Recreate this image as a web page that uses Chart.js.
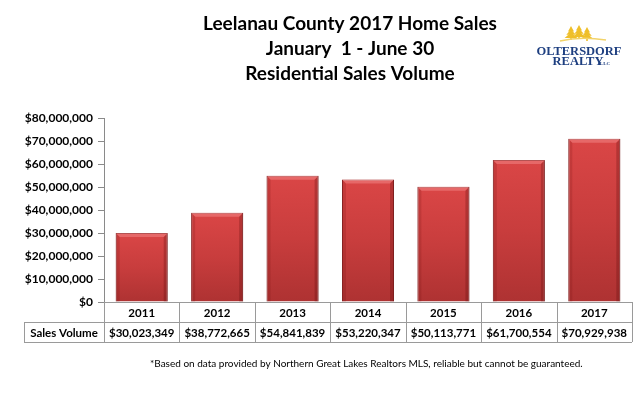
<!DOCTYPE html>
<html>
<head>
<meta charset="utf-8">
<script src="https://cdn.jsdelivr.net/npm/chart.js@4"></script>
<style>
  html, body { margin: 0; padding: 0; background: #fff; }
  canvas { display: block; }
</style>
</head>
<body>
<canvas id="chart" width="638" height="398"></canvas>
<script>
// ----------------------------
// DATA
// ----------------------------
const years = ["2011", "2012", "2013", "2014", "2015", "2016", "2017"];
const salesVolume = [30023349, 38772665, 54841839, 53220347, 50113771, 61700554, 70929938];
const titleLines = ["Leelanau County 2017 Home Sales", "January  1 - June 30", "Residential Sales Volume"];
const rowLabel = "Sales Volume";
const footnote = "*Based on data provided by Northern Great Lakes Realtors MLS, reliable but cannot be guaranteed.";

const money = v => "$" + Math.round(v).toLocaleString("en-US");
const FONT = "Lato, 'DejaVu Sans', sans-serif";

// ----------------------------
// BAR GRADIENT (per bar)
// ----------------------------
function barFill(ctx) {
    const chart = ctx.chart;
    const y = chart.scales.y;
    if (!y || ctx.dataIndex === undefined) return "#c83c3c";
    const top = y.getPixelForValue(salesVolume[ctx.dataIndex]);
    const bottom = y.getPixelForValue(0);
    if (!isFinite(top) || !isFinite(bottom) || top === bottom) return "#c83c3c";
    const g = chart.ctx.createLinearGradient(0, top, 0, bottom);
    g.addColorStop(0, "#da4646");
    g.addColorStop(0.5, "#c83d3d");
    g.addColorStop(1, "#ae3232");
    return g;
}

// ----------------------------
// BEVEL ON BARS
// ----------------------------
const bevelPlugin = {
    id: "bevel",
    afterDatasetsDraw(chart) {
        const c = chart.ctx;
        chart.getDatasetMeta(0).data.forEach(bar => {
            const l = bar.x - bar.width / 2, r = bar.x + bar.width / 2;
            const t = bar.y, b = bar.base, d = 4;
            c.save();
            // top highlight
            c.fillStyle = "rgba(255,170,170,0.35)";
            c.beginPath();
            c.moveTo(l, t); c.lineTo(r, t); c.lineTo(r - d, t + d); c.lineTo(l + d, t + d);
            c.closePath(); c.fill();
            // left edge
            c.fillStyle = "rgba(110,15,15,0.18)";
            c.beginPath();
            c.moveTo(l, t); c.lineTo(l + d, t + d); c.lineTo(l + d, b); c.lineTo(l, b);
            c.closePath(); c.fill();
            // right edge
            c.fillStyle = "rgba(90,10,10,0.28)";
            c.beginPath();
            c.moveTo(r, t); c.lineTo(r - d, t + d); c.lineTo(r - d, b); c.lineTo(r, b);
            c.closePath(); c.fill();
            c.restore();
        });
    }
};

// ----------------------------
// TITLE, TABLE, FOOTNOTE, LOGO
// ----------------------------
const extrasPlugin = {
    id: "extras",
    afterDraw(chart) {
        const c = chart.ctx;
        const x = chart.scales.x;
        const area = chart.chartArea;
        c.save();

        // title
        c.fillStyle = "#000";
        c.textAlign = "center";
        c.textBaseline = "middle";
        c.font = "bold 19px " + FONT;
        titleLines.forEach((t, i) => c.fillText(t, 350, 24 + i * 25));

        // data table
        const y0 = area.bottom, y1 = y0 + 20, y2 = y1 + 20;
        const left = 24, axisX = area.left, right = area.right;
        const half = (x.getPixelForValue(1) - x.getPixelForValue(0)) / 2;
        c.strokeStyle = "#9a9a9a";
        c.lineWidth = 1;
        c.beginPath();
        c.moveTo(axisX, y0 + 0.5); c.lineTo(right, y0 + 0.5);
        c.moveTo(left, y1 + 0.5); c.lineTo(right, y1 + 0.5);
        c.moveTo(left, y2 + 0.5); c.lineTo(right, y2 + 0.5);
        c.moveTo(left + 0.5, y1); c.lineTo(left + 0.5, y2);
        c.moveTo(axisX + 0.5, y0); c.lineTo(axisX + 0.5, y2);
        years.forEach((yr, i) => {
            const bx = Math.round(x.getPixelForValue(i) + half) + 0.5;
            c.moveTo(bx, y0); c.lineTo(bx, y2);
        });
        c.stroke();

        c.fillStyle = "#000";
        c.font = "bold 11.5px " + FONT;
        years.forEach((yr, i) => {
            const cx = x.getPixelForValue(i);
            c.fillText(yr, cx, y0 + 11);
            c.fillText(money(salesVolume[i]), cx, y1 + 11);
        });
        c.fillText(rowLabel, (left + axisX) / 2, y1 + 11);

        // footnote
        c.textAlign = "left";
        c.font = "10px " + FONT;
        c.fillText(footnote, 150, 364);

        // logo: trees
        c.fillStyle = "#efbf2a";
        [[571, 26], [579, 25], [587, 27]].forEach(([tx, ty]) => {
            for (let k = 0; k < 3; k++) {
                const w = 3 + k * 1.7, yy = ty + k * 3.3;
                c.beginPath();
                c.moveTo(tx, yy); c.lineTo(tx + w, yy + 5.5); c.lineTo(tx - w, yy + 5.5);
                c.closePath(); c.fill();
            }
            c.fillRect(tx - 0.8, ty + 12, 1.6, 2);
        });
        c.strokeStyle = "#f2d36a";
        c.lineWidth = 1.5;
        c.beginPath();
        c.moveTo(560, 41); c.quadraticCurveTo(580, 36, 606, 40);
        c.stroke();

        // logo: text
        c.fillStyle = "#1e3f80";
        c.textAlign = "center";
        c.font = "bold 12.5px 'Liberation Serif', 'DejaVu Serif', serif";
        c.fillText("OLTERSDORF", 579, 52);
        c.fillText("REALTY", 578, 62);
        c.font = "bold 5px 'Liberation Serif', serif";
        c.fillText("LLC", 605, 64);

        c.restore();
    }
};

// ----------------------------
// CHART
// ----------------------------
new Chart(document.getElementById("chart").getContext("2d"), {
    type: "bar",
    data: {
        labels: years,
        datasets: [{
            label: rowLabel,
            data: salesVolume,
            backgroundColor: barFill,
            borderColor: "#8c2626",
            borderWidth: 1,
            barPercentage: 0.69,
            categoryPercentage: 1
        }]
    },
    options: {
        responsive: false,
        animation: false,
        layout: { padding: { top: 118, right: 6, bottom: 96, left: 0 } },
        plugins: {
            legend: { display: false },
            tooltip: { enabled: false }
        },
        scales: {
            x: { display: false },
            y: {
                min: 0,
                max: 80000000,
                afterFit: s => { s.width = 104; },
                ticks: {
                    stepSize: 10000000,
                    padding: 5,
                    color: "#000",
                    font: { family: FONT, size: 12, weight: "bold" },
                    callback: v => money(v)
                },
                grid: {
                    drawOnChartArea: false,
                    drawTicks: true,
                    tickLength: 6,
                    color: "#8a8a8a"
                },
                border: { display: true, color: "#8a8a8a" }
            }
        }
    },
    plugins: [bevelPlugin, extrasPlugin]
});
</script>
</body>
</html>
